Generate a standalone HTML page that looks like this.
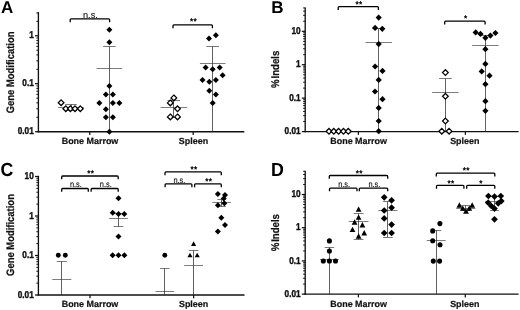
<!DOCTYPE html>
<html lang="en"><head><meta charset="utf-8"><title>Figure</title>
<style>
html,body{margin:0;padding:0;background:#fff;}
body{width:520px;height:310px;overflow:hidden;}
svg{display:block;will-change:transform;text-rendering:geometricPrecision;font-family:"Liberation Sans",sans-serif;}
</style></head><body>
<svg width="520" height="310" viewBox="0 0 520 310">
<rect width="520" height="310" fill="#fff"/>
<line x1="38.40" y1="12.10" x2="38.40" y2="132.38" stroke="#111" stroke-width="1.35" stroke-linecap="butt"/>
<line x1="37.73" y1="131.70" x2="244.30" y2="131.70" stroke="#111" stroke-width="1.35" stroke-linecap="butt"/>
<line x1="35.00" y1="35.80" x2="38.40" y2="35.80" stroke="#111" stroke-width="1.25" stroke-linecap="butt"/>
<text transform="translate(33.80,38.40) scale(1,1.2)" font-size="8.25" font-weight="bold" text-anchor="end" fill="#111" stroke="#111" stroke-width="0.35">1</text>
<line x1="35.00" y1="83.70" x2="38.40" y2="83.70" stroke="#111" stroke-width="1.25" stroke-linecap="butt"/>
<text transform="translate(33.80,86.30) scale(1,1.2)" font-size="8.25" font-weight="bold" text-anchor="end" fill="#111" stroke="#111" stroke-width="0.35">0.1</text>
<line x1="35.00" y1="131.70" x2="38.40" y2="131.70" stroke="#111" stroke-width="1.25" stroke-linecap="butt"/>
<text transform="translate(33.80,134.30) scale(1,1.2)" font-size="8.25" font-weight="bold" text-anchor="end" fill="#111" stroke="#111" stroke-width="0.35">0.01</text>
<line x1="36.30" y1="117.27" x2="38.40" y2="117.27" stroke="#111" stroke-width="0.95" stroke-linecap="butt"/>
<line x1="36.30" y1="108.82" x2="38.40" y2="108.82" stroke="#111" stroke-width="0.95" stroke-linecap="butt"/>
<line x1="36.30" y1="102.83" x2="38.40" y2="102.83" stroke="#111" stroke-width="0.95" stroke-linecap="butt"/>
<line x1="36.30" y1="98.18" x2="38.40" y2="98.18" stroke="#111" stroke-width="0.95" stroke-linecap="butt"/>
<line x1="36.30" y1="94.39" x2="38.40" y2="94.39" stroke="#111" stroke-width="0.95" stroke-linecap="butt"/>
<line x1="36.30" y1="91.18" x2="38.40" y2="91.18" stroke="#111" stroke-width="0.95" stroke-linecap="butt"/>
<line x1="36.30" y1="88.40" x2="38.40" y2="88.40" stroke="#111" stroke-width="0.95" stroke-linecap="butt"/>
<line x1="36.30" y1="85.94" x2="38.40" y2="85.94" stroke="#111" stroke-width="0.95" stroke-linecap="butt"/>
<line x1="36.30" y1="69.32" x2="38.40" y2="69.32" stroke="#111" stroke-width="0.95" stroke-linecap="butt"/>
<line x1="36.30" y1="60.87" x2="38.40" y2="60.87" stroke="#111" stroke-width="0.95" stroke-linecap="butt"/>
<line x1="36.30" y1="54.88" x2="38.40" y2="54.88" stroke="#111" stroke-width="0.95" stroke-linecap="butt"/>
<line x1="36.30" y1="50.23" x2="38.40" y2="50.23" stroke="#111" stroke-width="0.95" stroke-linecap="butt"/>
<line x1="36.30" y1="46.44" x2="38.40" y2="46.44" stroke="#111" stroke-width="0.95" stroke-linecap="butt"/>
<line x1="36.30" y1="43.23" x2="38.40" y2="43.23" stroke="#111" stroke-width="0.95" stroke-linecap="butt"/>
<line x1="36.30" y1="40.45" x2="38.40" y2="40.45" stroke="#111" stroke-width="0.95" stroke-linecap="butt"/>
<line x1="36.30" y1="37.99" x2="38.40" y2="37.99" stroke="#111" stroke-width="0.95" stroke-linecap="butt"/>
<line x1="36.30" y1="21.37" x2="38.40" y2="21.37" stroke="#111" stroke-width="0.95" stroke-linecap="butt"/>
<line x1="36.30" y1="12.92" x2="38.40" y2="12.92" stroke="#111" stroke-width="0.95" stroke-linecap="butt"/>
<line x1="89.80" y1="131.70" x2="89.80" y2="135.00" stroke="#111" stroke-width="1.25" stroke-linecap="butt"/>
<line x1="193.20" y1="131.70" x2="193.20" y2="135.00" stroke="#111" stroke-width="1.25" stroke-linecap="butt"/>
<text x="90.00" y="144.20" font-size="8.95" font-weight="bold" text-anchor="middle" fill="#111" stroke="#111" stroke-width="0.2">Bone Marrow</text>
<text x="193.50" y="144.20" font-size="8.95" font-weight="bold" text-anchor="middle" fill="#111" stroke="#111" stroke-width="0.2">Spleen</text>
<text transform="translate(13.50,72.40) rotate(-90) scale(1,1.15)" font-size="9.45" font-weight="bold" text-anchor="middle" fill="#111" stroke="#111" stroke-width="0.2">Gene Modification</text>
<text x="1.00" y="13.30" font-size="17" font-weight="bold" text-anchor="start" fill="#000" >A</text>
<line x1="71.50" y1="104.50" x2="71.50" y2="110.50" stroke="#2a2a2a" stroke-width="0.74" stroke-linecap="butt"/>
<line x1="58.20" y1="107.50" x2="83.80" y2="107.50" stroke="#333" stroke-width="0.64" stroke-linecap="butt"/>
<line x1="65.20" y1="104.50" x2="76.80" y2="104.50" stroke="#333" stroke-width="0.66" stroke-linecap="butt"/>
<line x1="65.20" y1="110.50" x2="76.80" y2="110.50" stroke="#333" stroke-width="0.66" stroke-linecap="butt"/>
<polygon points="61.10,99.85 63.95,102.70 61.10,105.55 58.25,102.70" fill="#fff" stroke="#000" stroke-width="1.25"/>
<polygon points="65.80,105.85 68.65,108.70 65.80,111.55 62.95,108.70" fill="#fff" stroke="#000" stroke-width="1.25"/>
<polygon points="70.40,105.85 73.25,108.70 70.40,111.55 67.55,108.70" fill="#fff" stroke="#000" stroke-width="1.25"/>
<polygon points="75.00,105.85 77.85,108.70 75.00,111.55 72.15,108.70" fill="#fff" stroke="#000" stroke-width="1.25"/>
<polygon points="80.30,105.85 83.15,108.70 80.30,111.55 77.45,108.70" fill="#fff" stroke="#000" stroke-width="1.25"/>
<line x1="109.50" y1="46.50" x2="109.50" y2="131.70" stroke="#2a2a2a" stroke-width="0.74" stroke-linecap="butt"/>
<line x1="96.60" y1="68.50" x2="122.20" y2="68.50" stroke="#333" stroke-width="0.64" stroke-linecap="butt"/>
<line x1="103.10" y1="46.50" x2="115.70" y2="46.50" stroke="#333" stroke-width="0.66" stroke-linecap="butt"/>
<polygon points="109.40,26.80 112.40,29.80 109.40,32.80 106.40,29.80" fill="#000"/>
<polygon points="109.40,39.20 112.40,42.20 109.40,45.20 106.40,42.20" fill="#000"/>
<polygon points="109.40,83.00 112.40,86.00 109.40,89.00 106.40,86.00" fill="#000"/>
<polygon points="105.90,91.40 108.90,94.40 105.90,97.40 102.90,94.40" fill="#000"/>
<polygon points="112.90,91.40 115.90,94.40 112.90,97.40 109.90,94.40" fill="#000"/>
<polygon points="99.40,100.10 102.40,103.10 99.40,106.10 96.40,103.10" fill="#000"/>
<polygon points="112.90,100.10 115.90,103.10 112.90,106.10 109.90,103.10" fill="#000"/>
<polygon points="119.40,100.10 122.40,103.10 119.40,106.10 116.40,103.10" fill="#000"/>
<polygon points="105.90,106.30 108.90,109.30 105.90,112.30 102.90,109.30" fill="#000"/>
<polygon points="105.90,114.20 108.90,117.20 105.90,120.20 102.90,117.20" fill="#000"/>
<polygon points="112.90,114.20 115.90,117.20 112.90,120.20 109.90,117.20" fill="#000"/>
<polygon points="109.40,128.70 112.40,131.70 109.40,134.70 106.40,131.70" fill="#000"/>
<path d="M70.20,22.20 V19.80 Q70.20,18.90 71.10,18.90 H108.70 Q109.60,18.90 109.60,19.80 V22.20" fill="none" stroke="#000" stroke-width="1.3"/>
<text transform="translate(90.40,17.90) scale(1,1.0)" font-size="9.2" text-anchor="middle" fill="#111" stroke="#111" stroke-width="0.12">n.s.</text>
<line x1="173.50" y1="100.50" x2="173.50" y2="117.50" stroke="#2a2a2a" stroke-width="0.74" stroke-linecap="butt"/>
<line x1="160.55" y1="107.50" x2="187.15" y2="107.50" stroke="#333" stroke-width="0.64" stroke-linecap="butt"/>
<line x1="167.55" y1="100.50" x2="180.15" y2="100.50" stroke="#333" stroke-width="0.66" stroke-linecap="butt"/>
<line x1="167.55" y1="117.50" x2="180.15" y2="117.50" stroke="#333" stroke-width="0.66" stroke-linecap="butt"/>
<polygon points="173.85,95.05 176.70,97.90 173.85,100.75 171.00,97.90" fill="#fff" stroke="#000" stroke-width="1.25"/>
<polygon points="170.30,100.05 173.15,102.90 170.30,105.75 167.45,102.90" fill="#fff" stroke="#000" stroke-width="1.25"/>
<polygon points="177.50,105.95 180.35,108.80 177.50,111.65 174.65,108.80" fill="#fff" stroke="#000" stroke-width="1.25"/>
<polygon points="170.30,114.05 173.15,116.90 170.30,119.75 167.45,116.90" fill="#fff" stroke="#000" stroke-width="1.25"/>
<polygon points="177.50,114.05 180.35,116.90 177.50,119.75 174.65,116.90" fill="#fff" stroke="#000" stroke-width="1.25"/>
<line x1="212.50" y1="46.50" x2="212.50" y2="131.70" stroke="#2a2a2a" stroke-width="0.74" stroke-linecap="butt"/>
<line x1="199.90" y1="63.50" x2="225.50" y2="63.50" stroke="#333" stroke-width="0.64" stroke-linecap="butt"/>
<line x1="206.40" y1="46.50" x2="219.00" y2="46.50" stroke="#333" stroke-width="0.66" stroke-linecap="butt"/>
<polygon points="215.90,32.20 218.90,35.20 215.90,38.20 212.90,35.20" fill="#000"/>
<polygon points="209.00,35.50 212.00,38.50 209.00,41.50 206.00,38.50" fill="#000"/>
<polygon points="205.60,64.40 208.60,67.40 205.60,70.40 202.60,67.40" fill="#000"/>
<polygon points="212.70,66.20 215.70,69.20 212.70,72.20 209.70,69.20" fill="#000"/>
<polygon points="219.70,64.40 222.70,67.40 219.70,70.40 216.70,67.40" fill="#000"/>
<polygon points="222.60,72.30 225.60,75.30 222.60,78.30 219.60,75.30" fill="#000"/>
<polygon points="202.50,76.90 205.50,79.90 202.50,82.90 199.50,79.90" fill="#000"/>
<polygon points="209.30,78.80 212.30,81.80 209.30,84.80 206.30,81.80" fill="#000"/>
<polygon points="215.90,76.90 218.90,79.90 215.90,82.90 212.90,79.90" fill="#000"/>
<polygon points="209.30,87.80 212.30,90.80 209.30,93.80 206.30,90.80" fill="#000"/>
<polygon points="215.90,91.60 218.90,94.60 215.90,97.60 212.90,94.60" fill="#000"/>
<polygon points="212.70,99.90 215.70,102.90 212.70,105.90 209.70,102.90" fill="#000"/>
<path d="M173.00,28.20 V25.80 Q173.00,24.90 173.90,24.90 H211.50 Q212.40,24.90 212.40,25.80 V28.20" fill="none" stroke="#000" stroke-width="1.3"/>
<text x="193.50" y="24.20" font-size="8.2" font-weight="normal" text-anchor="middle" fill="#000" stroke="#000" stroke-width="0.35" letter-spacing="0.3">**</text>
<line x1="305.20" y1="7.60" x2="305.20" y2="132.28" stroke="#111" stroke-width="1.35" stroke-linecap="butt"/>
<line x1="304.52" y1="131.60" x2="518.60" y2="131.60" stroke="#111" stroke-width="1.35" stroke-linecap="butt"/>
<line x1="301.80" y1="31.30" x2="305.20" y2="31.30" stroke="#111" stroke-width="1.25" stroke-linecap="butt"/>
<text transform="translate(300.60,33.90) scale(1,1.2)" font-size="8.25" font-weight="bold" text-anchor="end" fill="#111" stroke="#111" stroke-width="0.35">10</text>
<line x1="301.80" y1="64.70" x2="305.20" y2="64.70" stroke="#111" stroke-width="1.25" stroke-linecap="butt"/>
<text transform="translate(300.60,67.30) scale(1,1.2)" font-size="8.25" font-weight="bold" text-anchor="end" fill="#111" stroke="#111" stroke-width="0.35">1</text>
<line x1="301.80" y1="98.10" x2="305.20" y2="98.10" stroke="#111" stroke-width="1.25" stroke-linecap="butt"/>
<text transform="translate(300.60,100.70) scale(1,1.2)" font-size="8.25" font-weight="bold" text-anchor="end" fill="#111" stroke="#111" stroke-width="0.35">0.1</text>
<line x1="301.80" y1="131.60" x2="305.20" y2="131.60" stroke="#111" stroke-width="1.25" stroke-linecap="butt"/>
<text transform="translate(300.60,134.20) scale(1,1.2)" font-size="8.25" font-weight="bold" text-anchor="end" fill="#111" stroke="#111" stroke-width="0.35">0.01</text>
<line x1="303.10" y1="121.54" x2="305.20" y2="121.54" stroke="#111" stroke-width="0.95" stroke-linecap="butt"/>
<line x1="303.10" y1="115.65" x2="305.20" y2="115.65" stroke="#111" stroke-width="0.95" stroke-linecap="butt"/>
<line x1="303.10" y1="111.47" x2="305.20" y2="111.47" stroke="#111" stroke-width="0.95" stroke-linecap="butt"/>
<line x1="303.10" y1="108.23" x2="305.20" y2="108.23" stroke="#111" stroke-width="0.95" stroke-linecap="butt"/>
<line x1="303.10" y1="105.58" x2="305.20" y2="105.58" stroke="#111" stroke-width="0.95" stroke-linecap="butt"/>
<line x1="303.10" y1="103.35" x2="305.20" y2="103.35" stroke="#111" stroke-width="0.95" stroke-linecap="butt"/>
<line x1="303.10" y1="101.41" x2="305.20" y2="101.41" stroke="#111" stroke-width="0.95" stroke-linecap="butt"/>
<line x1="303.10" y1="99.70" x2="305.20" y2="99.70" stroke="#111" stroke-width="0.95" stroke-linecap="butt"/>
<line x1="303.10" y1="88.10" x2="305.20" y2="88.10" stroke="#111" stroke-width="0.95" stroke-linecap="butt"/>
<line x1="303.10" y1="82.21" x2="305.20" y2="82.21" stroke="#111" stroke-width="0.95" stroke-linecap="butt"/>
<line x1="303.10" y1="78.04" x2="305.20" y2="78.04" stroke="#111" stroke-width="0.95" stroke-linecap="butt"/>
<line x1="303.10" y1="74.80" x2="305.20" y2="74.80" stroke="#111" stroke-width="0.95" stroke-linecap="butt"/>
<line x1="303.10" y1="72.15" x2="305.20" y2="72.15" stroke="#111" stroke-width="0.95" stroke-linecap="butt"/>
<line x1="303.10" y1="69.91" x2="305.20" y2="69.91" stroke="#111" stroke-width="0.95" stroke-linecap="butt"/>
<line x1="303.10" y1="67.97" x2="305.20" y2="67.97" stroke="#111" stroke-width="0.95" stroke-linecap="butt"/>
<line x1="303.10" y1="66.26" x2="305.20" y2="66.26" stroke="#111" stroke-width="0.95" stroke-linecap="butt"/>
<line x1="303.10" y1="54.67" x2="305.20" y2="54.67" stroke="#111" stroke-width="0.95" stroke-linecap="butt"/>
<line x1="303.10" y1="48.78" x2="305.20" y2="48.78" stroke="#111" stroke-width="0.95" stroke-linecap="butt"/>
<line x1="303.10" y1="44.60" x2="305.20" y2="44.60" stroke="#111" stroke-width="0.95" stroke-linecap="butt"/>
<line x1="303.10" y1="41.36" x2="305.20" y2="41.36" stroke="#111" stroke-width="0.95" stroke-linecap="butt"/>
<line x1="303.10" y1="38.72" x2="305.20" y2="38.72" stroke="#111" stroke-width="0.95" stroke-linecap="butt"/>
<line x1="303.10" y1="36.48" x2="305.20" y2="36.48" stroke="#111" stroke-width="0.95" stroke-linecap="butt"/>
<line x1="303.10" y1="34.54" x2="305.20" y2="34.54" stroke="#111" stroke-width="0.95" stroke-linecap="butt"/>
<line x1="303.10" y1="32.83" x2="305.20" y2="32.83" stroke="#111" stroke-width="0.95" stroke-linecap="butt"/>
<line x1="303.10" y1="21.24" x2="305.20" y2="21.24" stroke="#111" stroke-width="0.95" stroke-linecap="butt"/>
<line x1="303.10" y1="15.35" x2="305.20" y2="15.35" stroke="#111" stroke-width="0.95" stroke-linecap="butt"/>
<line x1="303.10" y1="11.17" x2="305.20" y2="11.17" stroke="#111" stroke-width="0.95" stroke-linecap="butt"/>
<line x1="303.10" y1="7.93" x2="305.20" y2="7.93" stroke="#111" stroke-width="0.95" stroke-linecap="butt"/>
<line x1="358.40" y1="131.60" x2="358.40" y2="134.90" stroke="#111" stroke-width="1.25" stroke-linecap="butt"/>
<line x1="465.40" y1="131.60" x2="465.40" y2="134.90" stroke="#111" stroke-width="1.25" stroke-linecap="butt"/>
<text x="358.60" y="144.20" font-size="8.95" font-weight="bold" text-anchor="middle" fill="#111" stroke="#111" stroke-width="0.2">Bone Marrow</text>
<text x="464.80" y="144.20" font-size="8.95" font-weight="bold" text-anchor="middle" fill="#111" stroke="#111" stroke-width="0.2">Spleen</text>
<text transform="translate(279.30,69.30) rotate(-90) scale(1,1.15)" font-size="9.65" font-weight="bold" text-anchor="middle" fill="#111" stroke="#111" stroke-width="0.2">%<tspan dx="0.9">Indels</tspan></text>
<text x="271.30" y="13.30" font-size="17" font-weight="bold" text-anchor="start" fill="#000" >B</text>
<polygon points="329.00,128.45 331.85,131.30 329.00,134.15 326.15,131.30" fill="#fff" stroke="#000" stroke-width="1.25"/>
<polygon points="333.80,128.45 336.65,131.30 333.80,134.15 330.95,131.30" fill="#fff" stroke="#000" stroke-width="1.25"/>
<polygon points="338.60,128.45 341.45,131.30 338.60,134.15 335.75,131.30" fill="#fff" stroke="#000" stroke-width="1.25"/>
<polygon points="343.50,128.45 346.35,131.30 343.50,134.15 340.65,131.30" fill="#fff" stroke="#000" stroke-width="1.25"/>
<polygon points="348.30,128.45 351.15,131.30 348.30,134.15 345.45,131.30" fill="#fff" stroke="#000" stroke-width="1.25"/>
<line x1="378.50" y1="28.50" x2="378.50" y2="131.60" stroke="#2a2a2a" stroke-width="0.74" stroke-linecap="butt"/>
<line x1="365.50" y1="42.50" x2="391.90" y2="42.50" stroke="#333" stroke-width="0.64" stroke-linecap="butt"/>
<line x1="372.40" y1="28.50" x2="385.00" y2="28.50" stroke="#333" stroke-width="0.66" stroke-linecap="butt"/>
<polygon points="378.70,14.50 381.80,17.60 378.70,20.70 375.60,17.60" fill="#000"/>
<polygon points="375.10,24.80 378.20,27.90 375.10,31.00 372.00,27.90" fill="#000"/>
<polygon points="382.30,25.70 385.40,28.80 382.30,31.90 379.20,28.80" fill="#000"/>
<polygon points="378.70,41.00 381.80,44.10 378.70,47.20 375.60,44.10" fill="#000"/>
<polygon points="375.10,63.40 378.20,66.50 375.10,69.60 372.00,66.50" fill="#000"/>
<polygon points="382.50,67.80 385.60,70.90 382.50,74.00 379.40,70.90" fill="#000"/>
<polygon points="378.70,76.80 381.80,79.90 378.70,83.00 375.60,79.90" fill="#000"/>
<polygon points="375.00,88.40 378.10,91.50 375.00,94.60 371.90,91.50" fill="#000"/>
<polygon points="382.50,96.10 385.60,99.20 382.50,102.30 379.40,99.20" fill="#000"/>
<polygon points="378.70,104.80 381.80,107.90 378.70,111.00 375.60,107.90" fill="#000"/>
<polygon points="378.70,117.90 381.80,121.00 378.70,124.10 375.60,121.00" fill="#000"/>
<polygon points="378.70,128.10 381.80,131.20 378.70,134.30 375.60,131.20" fill="#000"/>
<path d="M338.20,9.90 V7.50 Q338.20,6.60 339.10,6.60 H377.50 Q378.40,6.60 378.40,7.50 V9.90" fill="none" stroke="#000" stroke-width="1.3"/>
<text x="359.10" y="6.90" font-size="8.2" font-weight="normal" text-anchor="middle" fill="#000" stroke="#000" stroke-width="0.35" letter-spacing="0.3">**</text>
<line x1="445.50" y1="78.50" x2="445.50" y2="131.60" stroke="#2a2a2a" stroke-width="0.74" stroke-linecap="butt"/>
<line x1="432.20" y1="92.50" x2="458.60" y2="92.50" stroke="#333" stroke-width="0.64" stroke-linecap="butt"/>
<line x1="439.10" y1="78.50" x2="451.70" y2="78.50" stroke="#333" stroke-width="0.66" stroke-linecap="butt"/>
<polygon points="445.40,69.75 448.25,72.60 445.40,75.45 442.55,72.60" fill="#fff" stroke="#000" stroke-width="1.25"/>
<polygon points="445.40,93.45 448.25,96.30 445.40,99.15 442.55,96.30" fill="#fff" stroke="#000" stroke-width="1.25"/>
<polygon points="445.40,118.15 448.25,121.00 445.40,123.85 442.55,121.00" fill="#fff" stroke="#000" stroke-width="1.25"/>
<polygon points="441.80,128.35 444.65,131.20 441.80,134.05 438.95,131.20" fill="#fff" stroke="#000" stroke-width="1.25"/>
<polygon points="449.10,128.35 451.95,131.20 449.10,134.05 446.25,131.20" fill="#fff" stroke="#000" stroke-width="1.25"/>
<line x1="485.50" y1="35.50" x2="485.50" y2="131.60" stroke="#2a2a2a" stroke-width="0.74" stroke-linecap="butt"/>
<line x1="472.20" y1="45.50" x2="498.60" y2="45.50" stroke="#333" stroke-width="0.64" stroke-linecap="butt"/>
<line x1="479.10" y1="35.50" x2="491.70" y2="35.50" stroke="#333" stroke-width="0.66" stroke-linecap="butt"/>
<polygon points="475.70,29.30 478.80,32.40 475.70,35.50 472.60,32.40" fill="#000"/>
<polygon points="480.50,30.80 483.60,33.90 480.50,37.00 477.40,33.90" fill="#000"/>
<polygon points="485.40,34.70 488.50,37.80 485.40,40.90 482.30,37.80" fill="#000"/>
<polygon points="490.40,32.50 493.50,35.60 490.40,38.70 487.30,35.60" fill="#000"/>
<polygon points="495.40,29.90 498.50,33.00 495.40,36.10 492.30,33.00" fill="#000"/>
<polygon points="485.40,46.10 488.50,49.20 485.40,52.30 482.30,49.20" fill="#000"/>
<polygon points="485.40,60.80 488.50,63.90 485.40,67.00 482.30,63.90" fill="#000"/>
<polygon points="481.70,68.30 484.80,71.40 481.70,74.50 478.60,71.40" fill="#000"/>
<polygon points="489.50,72.60 492.60,75.70 489.50,78.80 486.40,75.70" fill="#000"/>
<polygon points="485.40,81.10 488.50,84.20 485.40,87.30 482.30,84.20" fill="#000"/>
<polygon points="485.40,98.10 488.50,101.20 485.40,104.30 482.30,101.20" fill="#000"/>
<polygon points="485.40,107.70 488.50,110.80 485.40,113.90 482.30,110.80" fill="#000"/>
<path d="M444.70,24.50 V22.10 Q444.70,21.20 445.60,21.20 H484.20 Q485.10,21.20 485.10,22.10 V24.50" fill="none" stroke="#000" stroke-width="1.3"/>
<text x="465.70" y="20.50" font-size="8.2" font-weight="normal" text-anchor="middle" fill="#000" stroke="#000" stroke-width="0.35" letter-spacing="0.3">*</text>
<line x1="38.40" y1="175.80" x2="38.40" y2="295.68" stroke="#111" stroke-width="1.35" stroke-linecap="butt"/>
<line x1="37.73" y1="295.00" x2="244.50" y2="295.00" stroke="#111" stroke-width="1.35" stroke-linecap="butt"/>
<line x1="35.00" y1="176.50" x2="38.40" y2="176.50" stroke="#111" stroke-width="1.25" stroke-linecap="butt"/>
<text transform="translate(33.80,179.10) scale(1,1.2)" font-size="8.25" font-weight="bold" text-anchor="end" fill="#111" stroke="#111" stroke-width="0.35">10</text>
<line x1="35.00" y1="216.00" x2="38.40" y2="216.00" stroke="#111" stroke-width="1.25" stroke-linecap="butt"/>
<text transform="translate(33.80,218.60) scale(1,1.2)" font-size="8.25" font-weight="bold" text-anchor="end" fill="#111" stroke="#111" stroke-width="0.35">1</text>
<line x1="35.00" y1="255.50" x2="38.40" y2="255.50" stroke="#111" stroke-width="1.25" stroke-linecap="butt"/>
<text transform="translate(33.80,258.10) scale(1,1.2)" font-size="8.25" font-weight="bold" text-anchor="end" fill="#111" stroke="#111" stroke-width="0.35">0.1</text>
<line x1="35.00" y1="295.00" x2="38.40" y2="295.00" stroke="#111" stroke-width="1.25" stroke-linecap="butt"/>
<text transform="translate(33.80,297.60) scale(1,1.2)" font-size="8.25" font-weight="bold" text-anchor="end" fill="#111" stroke="#111" stroke-width="0.35">0.01</text>
<line x1="36.30" y1="283.11" x2="38.40" y2="283.11" stroke="#111" stroke-width="0.95" stroke-linecap="butt"/>
<line x1="36.30" y1="276.15" x2="38.40" y2="276.15" stroke="#111" stroke-width="0.95" stroke-linecap="butt"/>
<line x1="36.30" y1="271.22" x2="38.40" y2="271.22" stroke="#111" stroke-width="0.95" stroke-linecap="butt"/>
<line x1="36.30" y1="267.39" x2="38.40" y2="267.39" stroke="#111" stroke-width="0.95" stroke-linecap="butt"/>
<line x1="36.30" y1="264.26" x2="38.40" y2="264.26" stroke="#111" stroke-width="0.95" stroke-linecap="butt"/>
<line x1="36.30" y1="261.62" x2="38.40" y2="261.62" stroke="#111" stroke-width="0.95" stroke-linecap="butt"/>
<line x1="36.30" y1="259.33" x2="38.40" y2="259.33" stroke="#111" stroke-width="0.95" stroke-linecap="butt"/>
<line x1="36.30" y1="257.31" x2="38.40" y2="257.31" stroke="#111" stroke-width="0.95" stroke-linecap="butt"/>
<line x1="36.30" y1="243.61" x2="38.40" y2="243.61" stroke="#111" stroke-width="0.95" stroke-linecap="butt"/>
<line x1="36.30" y1="236.65" x2="38.40" y2="236.65" stroke="#111" stroke-width="0.95" stroke-linecap="butt"/>
<line x1="36.30" y1="231.72" x2="38.40" y2="231.72" stroke="#111" stroke-width="0.95" stroke-linecap="butt"/>
<line x1="36.30" y1="227.89" x2="38.40" y2="227.89" stroke="#111" stroke-width="0.95" stroke-linecap="butt"/>
<line x1="36.30" y1="224.76" x2="38.40" y2="224.76" stroke="#111" stroke-width="0.95" stroke-linecap="butt"/>
<line x1="36.30" y1="222.12" x2="38.40" y2="222.12" stroke="#111" stroke-width="0.95" stroke-linecap="butt"/>
<line x1="36.30" y1="219.83" x2="38.40" y2="219.83" stroke="#111" stroke-width="0.95" stroke-linecap="butt"/>
<line x1="36.30" y1="217.81" x2="38.40" y2="217.81" stroke="#111" stroke-width="0.95" stroke-linecap="butt"/>
<line x1="36.30" y1="204.11" x2="38.40" y2="204.11" stroke="#111" stroke-width="0.95" stroke-linecap="butt"/>
<line x1="36.30" y1="197.15" x2="38.40" y2="197.15" stroke="#111" stroke-width="0.95" stroke-linecap="butt"/>
<line x1="36.30" y1="192.22" x2="38.40" y2="192.22" stroke="#111" stroke-width="0.95" stroke-linecap="butt"/>
<line x1="36.30" y1="188.39" x2="38.40" y2="188.39" stroke="#111" stroke-width="0.95" stroke-linecap="butt"/>
<line x1="36.30" y1="185.26" x2="38.40" y2="185.26" stroke="#111" stroke-width="0.95" stroke-linecap="butt"/>
<line x1="36.30" y1="182.62" x2="38.40" y2="182.62" stroke="#111" stroke-width="0.95" stroke-linecap="butt"/>
<line x1="36.30" y1="180.33" x2="38.40" y2="180.33" stroke="#111" stroke-width="0.95" stroke-linecap="butt"/>
<line x1="36.30" y1="178.31" x2="38.40" y2="178.31" stroke="#111" stroke-width="0.95" stroke-linecap="butt"/>
<line x1="90.00" y1="295.00" x2="90.00" y2="298.30" stroke="#111" stroke-width="1.25" stroke-linecap="butt"/>
<line x1="193.60" y1="295.00" x2="193.60" y2="298.30" stroke="#111" stroke-width="1.25" stroke-linecap="butt"/>
<text x="90.00" y="306.80" font-size="8.95" font-weight="bold" text-anchor="middle" fill="#111" stroke="#111" stroke-width="0.2">Bone Marrow</text>
<text x="193.60" y="306.80" font-size="8.95" font-weight="bold" text-anchor="middle" fill="#111" stroke="#111" stroke-width="0.2">Spleen</text>
<text transform="translate(13.50,235.00) rotate(-90) scale(1,1.15)" font-size="9.45" font-weight="bold" text-anchor="middle" fill="#111" stroke="#111" stroke-width="0.2">Gene Modification</text>
<text transform="translate(0.60,175.90) scale(1,1.07)" font-size="17.8" font-weight="bold" fill="#000">C</text>
<line x1="61.50" y1="261.50" x2="61.50" y2="295.00" stroke="#2a2a2a" stroke-width="0.74" stroke-linecap="butt"/>
<line x1="52.30" y1="279.50" x2="71.30" y2="279.50" stroke="#333" stroke-width="0.64" stroke-linecap="butt"/>
<line x1="56.80" y1="261.50" x2="66.80" y2="261.50" stroke="#333" stroke-width="0.66" stroke-linecap="butt"/>
<circle cx="58.30" cy="255.30" r="2.45" fill="#000"/>
<circle cx="65.30" cy="255.30" r="2.45" fill="#000"/>
<line x1="118.50" y1="213.50" x2="118.50" y2="226.50" stroke="#2a2a2a" stroke-width="0.74" stroke-linecap="butt"/>
<line x1="109.10" y1="218.50" x2="127.90" y2="218.50" stroke="#333" stroke-width="0.64" stroke-linecap="butt"/>
<line x1="113.70" y1="213.50" x2="123.30" y2="213.50" stroke="#333" stroke-width="0.66" stroke-linecap="butt"/>
<line x1="113.70" y1="226.50" x2="123.30" y2="226.50" stroke="#333" stroke-width="0.66" stroke-linecap="butt"/>
<polygon points="118.50,195.20 121.50,198.20 118.50,201.20 115.50,198.20" fill="#000"/>
<polygon points="112.70,209.80 115.70,212.80 112.70,215.80 109.70,212.80" fill="#000"/>
<polygon points="118.50,211.10 121.50,214.10 118.50,217.10 115.50,214.10" fill="#000"/>
<polygon points="124.30,211.10 127.30,214.10 124.30,217.10 121.30,214.10" fill="#000"/>
<polygon points="118.50,233.60 121.50,236.60 118.50,239.60 115.50,236.60" fill="#000"/>
<polygon points="112.60,252.30 115.60,255.30 112.60,258.30 109.60,255.30" fill="#000"/>
<polygon points="118.50,252.30 121.50,255.30 118.50,258.30 115.50,255.30" fill="#000"/>
<polygon points="124.40,252.30 127.40,255.30 124.40,258.30 121.40,255.30" fill="#000"/>
<path d="M61.70,179.30 V176.90 Q61.70,176.00 62.60,176.00 H117.30 Q118.20,176.00 118.20,176.90 V179.30" fill="none" stroke="#000" stroke-width="1.3"/>
<text x="90.75" y="176.30" font-size="8.2" font-weight="normal" text-anchor="middle" fill="#000" stroke="#000" stroke-width="0.35" letter-spacing="0.3">**</text>
<path d="M61.70,191.80 V189.40 Q61.70,188.50 62.60,188.50 H87.40 Q88.30,188.50 88.30,189.40 V191.80" fill="none" stroke="#000" stroke-width="1.3"/>
<text transform="translate(75.90,186.90) scale(1,1.15)" font-size="7.4" text-anchor="middle" fill="#111" stroke="#111" stroke-width="0.12">n.s.</text>
<path d="M91.10,191.80 V189.40 Q91.10,188.50 92.00,188.50 H117.30 Q118.20,188.50 118.20,189.40 V191.80" fill="none" stroke="#000" stroke-width="1.3"/>
<text transform="translate(105.75,186.90) scale(1,1.15)" font-size="7.4" text-anchor="middle" fill="#111" stroke="#111" stroke-width="0.12">n.s.</text>
<line x1="164.50" y1="268.50" x2="164.50" y2="295.00" stroke="#2a2a2a" stroke-width="0.74" stroke-linecap="butt"/>
<line x1="155.50" y1="291.50" x2="174.10" y2="291.50" stroke="#333" stroke-width="0.64" stroke-linecap="butt"/>
<line x1="160.00" y1="268.50" x2="169.60" y2="268.50" stroke="#333" stroke-width="0.66" stroke-linecap="butt"/>
<circle cx="164.80" cy="255.20" r="2.45" fill="#000"/>
<line x1="193.50" y1="250.50" x2="193.50" y2="295.00" stroke="#2a2a2a" stroke-width="0.74" stroke-linecap="butt"/>
<line x1="184.20" y1="265.50" x2="203.00" y2="265.50" stroke="#333" stroke-width="0.64" stroke-linecap="butt"/>
<line x1="188.80" y1="250.50" x2="198.40" y2="250.50" stroke="#333" stroke-width="0.66" stroke-linecap="butt"/>
<polygon points="193.60,241.25 196.15,245.97 191.05,245.97" fill="#000"/>
<polygon points="190.00,252.65 192.55,257.37 187.45,257.37" fill="#000"/>
<polygon points="197.20,252.65 199.75,257.37 194.65,257.37" fill="#000"/>
<line x1="221.50" y1="199.50" x2="221.50" y2="206.50" stroke="#2a2a2a" stroke-width="0.74" stroke-linecap="butt"/>
<line x1="212.30" y1="202.50" x2="230.90" y2="202.50" stroke="#333" stroke-width="0.64" stroke-linecap="butt"/>
<line x1="217.40" y1="199.50" x2="225.80" y2="199.50" stroke="#333" stroke-width="0.66" stroke-linecap="butt"/>
<line x1="217.40" y1="206.50" x2="225.80" y2="206.50" stroke="#333" stroke-width="0.66" stroke-linecap="butt"/>
<polygon points="217.90,191.00 220.90,194.00 217.90,197.00 214.90,194.00" fill="#000"/>
<polygon points="225.00,191.90 228.00,194.90 225.00,197.90 222.00,194.90" fill="#000"/>
<polygon points="223.70,195.60 226.70,198.60 223.70,201.60 220.70,198.60" fill="#000"/>
<polygon points="224.30,200.30 227.30,203.30 224.30,206.30 221.30,203.30" fill="#000"/>
<polygon points="217.90,202.20 220.90,205.20 217.90,208.20 214.90,205.20" fill="#000"/>
<polygon points="221.30,214.80 224.30,217.80 221.30,220.80 218.30,217.80" fill="#000"/>
<polygon points="225.00,222.00 228.00,225.00 225.00,228.00 222.00,225.00" fill="#000"/>
<polygon points="217.90,228.50 220.90,231.50 217.90,234.50 214.90,231.50" fill="#000"/>
<path d="M165.00,175.25 V172.85 Q165.00,171.95 165.90,171.95 H220.40 Q221.30,171.95 221.30,172.85 V175.25" fill="none" stroke="#000" stroke-width="1.3"/>
<text x="193.95" y="172.25" font-size="8.2" font-weight="normal" text-anchor="middle" fill="#000" stroke="#000" stroke-width="0.35" letter-spacing="0.3">**</text>
<path d="M165.10,187.20 V184.80 Q165.10,183.90 166.00,183.90 H191.00 Q191.90,183.90 191.90,184.80 V187.20" fill="none" stroke="#000" stroke-width="1.3"/>
<text transform="translate(179.40,182.50) scale(1,1.15)" font-size="7.4" text-anchor="middle" fill="#111" stroke="#111" stroke-width="0.12">n.s.</text>
<path d="M194.60,187.20 V184.80 Q194.60,183.90 195.50,183.90 H220.40 Q221.30,183.90 221.30,184.80 V187.20" fill="none" stroke="#000" stroke-width="1.3"/>
<text x="208.75" y="184.20" font-size="8.2" font-weight="normal" text-anchor="middle" fill="#000" stroke="#000" stroke-width="0.35" letter-spacing="0.3">**</text>
<line x1="305.20" y1="170.70" x2="305.20" y2="294.78" stroke="#111" stroke-width="1.35" stroke-linecap="butt"/>
<line x1="304.52" y1="294.10" x2="518.60" y2="294.10" stroke="#111" stroke-width="1.35" stroke-linecap="butt"/>
<line x1="301.80" y1="194.50" x2="305.20" y2="194.50" stroke="#111" stroke-width="1.25" stroke-linecap="butt"/>
<text transform="translate(300.60,197.10) scale(1,1.2)" font-size="8.25" font-weight="bold" text-anchor="end" fill="#111" stroke="#111" stroke-width="0.35">10</text>
<line x1="301.80" y1="227.70" x2="305.20" y2="227.70" stroke="#111" stroke-width="1.25" stroke-linecap="butt"/>
<text transform="translate(300.60,230.30) scale(1,1.2)" font-size="8.25" font-weight="bold" text-anchor="end" fill="#111" stroke="#111" stroke-width="0.35">1</text>
<line x1="301.80" y1="260.90" x2="305.20" y2="260.90" stroke="#111" stroke-width="1.25" stroke-linecap="butt"/>
<text transform="translate(300.60,263.50) scale(1,1.2)" font-size="8.25" font-weight="bold" text-anchor="end" fill="#111" stroke="#111" stroke-width="0.35">0.1</text>
<line x1="301.80" y1="294.10" x2="305.20" y2="294.10" stroke="#111" stroke-width="1.25" stroke-linecap="butt"/>
<text transform="translate(300.60,296.70) scale(1,1.2)" font-size="8.25" font-weight="bold" text-anchor="end" fill="#111" stroke="#111" stroke-width="0.35">0.01</text>
<line x1="303.10" y1="284.11" x2="305.20" y2="284.11" stroke="#111" stroke-width="0.95" stroke-linecap="butt"/>
<line x1="303.10" y1="278.26" x2="305.20" y2="278.26" stroke="#111" stroke-width="0.95" stroke-linecap="butt"/>
<line x1="303.10" y1="274.11" x2="305.20" y2="274.11" stroke="#111" stroke-width="0.95" stroke-linecap="butt"/>
<line x1="303.10" y1="270.89" x2="305.20" y2="270.89" stroke="#111" stroke-width="0.95" stroke-linecap="butt"/>
<line x1="303.10" y1="268.27" x2="305.20" y2="268.27" stroke="#111" stroke-width="0.95" stroke-linecap="butt"/>
<line x1="303.10" y1="266.04" x2="305.20" y2="266.04" stroke="#111" stroke-width="0.95" stroke-linecap="butt"/>
<line x1="303.10" y1="264.12" x2="305.20" y2="264.12" stroke="#111" stroke-width="0.95" stroke-linecap="butt"/>
<line x1="303.10" y1="262.42" x2="305.20" y2="262.42" stroke="#111" stroke-width="0.95" stroke-linecap="butt"/>
<line x1="303.10" y1="250.91" x2="305.20" y2="250.91" stroke="#111" stroke-width="0.95" stroke-linecap="butt"/>
<line x1="303.10" y1="245.06" x2="305.20" y2="245.06" stroke="#111" stroke-width="0.95" stroke-linecap="butt"/>
<line x1="303.10" y1="240.91" x2="305.20" y2="240.91" stroke="#111" stroke-width="0.95" stroke-linecap="butt"/>
<line x1="303.10" y1="237.69" x2="305.20" y2="237.69" stroke="#111" stroke-width="0.95" stroke-linecap="butt"/>
<line x1="303.10" y1="235.07" x2="305.20" y2="235.07" stroke="#111" stroke-width="0.95" stroke-linecap="butt"/>
<line x1="303.10" y1="232.84" x2="305.20" y2="232.84" stroke="#111" stroke-width="0.95" stroke-linecap="butt"/>
<line x1="303.10" y1="230.92" x2="305.20" y2="230.92" stroke="#111" stroke-width="0.95" stroke-linecap="butt"/>
<line x1="303.10" y1="229.22" x2="305.20" y2="229.22" stroke="#111" stroke-width="0.95" stroke-linecap="butt"/>
<line x1="303.10" y1="217.71" x2="305.20" y2="217.71" stroke="#111" stroke-width="0.95" stroke-linecap="butt"/>
<line x1="303.10" y1="211.86" x2="305.20" y2="211.86" stroke="#111" stroke-width="0.95" stroke-linecap="butt"/>
<line x1="303.10" y1="207.71" x2="305.20" y2="207.71" stroke="#111" stroke-width="0.95" stroke-linecap="butt"/>
<line x1="303.10" y1="204.49" x2="305.20" y2="204.49" stroke="#111" stroke-width="0.95" stroke-linecap="butt"/>
<line x1="303.10" y1="201.87" x2="305.20" y2="201.87" stroke="#111" stroke-width="0.95" stroke-linecap="butt"/>
<line x1="303.10" y1="199.64" x2="305.20" y2="199.64" stroke="#111" stroke-width="0.95" stroke-linecap="butt"/>
<line x1="303.10" y1="197.72" x2="305.20" y2="197.72" stroke="#111" stroke-width="0.95" stroke-linecap="butt"/>
<line x1="303.10" y1="196.02" x2="305.20" y2="196.02" stroke="#111" stroke-width="0.95" stroke-linecap="butt"/>
<line x1="303.10" y1="184.51" x2="305.20" y2="184.51" stroke="#111" stroke-width="0.95" stroke-linecap="butt"/>
<line x1="303.10" y1="178.66" x2="305.20" y2="178.66" stroke="#111" stroke-width="0.95" stroke-linecap="butt"/>
<line x1="303.10" y1="174.51" x2="305.20" y2="174.51" stroke="#111" stroke-width="0.95" stroke-linecap="butt"/>
<line x1="303.10" y1="171.29" x2="305.20" y2="171.29" stroke="#111" stroke-width="0.95" stroke-linecap="butt"/>
<line x1="358.40" y1="294.10" x2="358.40" y2="297.40" stroke="#111" stroke-width="1.25" stroke-linecap="butt"/>
<line x1="465.30" y1="294.10" x2="465.30" y2="297.40" stroke="#111" stroke-width="1.25" stroke-linecap="butt"/>
<text x="358.60" y="306.80" font-size="8.95" font-weight="bold" text-anchor="middle" fill="#111" stroke="#111" stroke-width="0.2">Bone Marrow</text>
<text x="464.80" y="306.80" font-size="8.95" font-weight="bold" text-anchor="middle" fill="#111" stroke="#111" stroke-width="0.2">Spleen</text>
<text transform="translate(279.30,232.70) rotate(-90) scale(1,1.15)" font-size="9.65" font-weight="bold" text-anchor="middle" fill="#111" stroke="#111" stroke-width="0.2">%<tspan dx="0.9">Indels</tspan></text>
<text transform="translate(271.00,175.80) scale(1,1.07)" font-size="17.8" font-weight="bold" fill="#000">D</text>
<line x1="329.50" y1="247.50" x2="329.50" y2="294.10" stroke="#2a2a2a" stroke-width="0.74" stroke-linecap="butt"/>
<line x1="320.10" y1="259.50" x2="338.70" y2="259.50" stroke="#333" stroke-width="0.64" stroke-linecap="butt"/>
<line x1="324.60" y1="247.50" x2="334.20" y2="247.50" stroke="#333" stroke-width="0.66" stroke-linecap="butt"/>
<circle cx="329.40" cy="240.90" r="2.55" fill="#000"/>
<circle cx="329.40" cy="251.00" r="2.55" fill="#000"/>
<circle cx="323.30" cy="261.00" r="2.55" fill="#000"/>
<circle cx="329.40" cy="261.00" r="2.55" fill="#000"/>
<circle cx="335.50" cy="261.00" r="2.55" fill="#000"/>
<line x1="358.50" y1="213.50" x2="358.50" y2="239.50" stroke="#2a2a2a" stroke-width="0.74" stroke-linecap="butt"/>
<line x1="348.70" y1="221.50" x2="368.50" y2="221.50" stroke="#333" stroke-width="0.64" stroke-linecap="butt"/>
<line x1="353.70" y1="213.50" x2="363.50" y2="213.50" stroke="#333" stroke-width="0.66" stroke-linecap="butt"/>
<line x1="353.70" y1="239.50" x2="363.50" y2="239.50" stroke="#333" stroke-width="0.66" stroke-linecap="butt"/>
<polygon points="358.60,206.50 361.50,211.87 355.70,211.87" fill="#000"/>
<polygon points="358.60,214.40 361.50,219.77 355.70,219.77" fill="#000"/>
<polygon points="354.60,219.30 357.50,224.66 351.70,224.66" fill="#000"/>
<polygon points="362.40,222.10 365.30,227.47 359.50,227.47" fill="#000"/>
<polygon points="352.50,226.70 355.40,232.06 349.60,232.06" fill="#000"/>
<polygon points="364.20,230.10 367.10,235.47 361.30,235.47" fill="#000"/>
<polygon points="358.60,233.30 361.50,238.66 355.70,238.66" fill="#000"/>
<line x1="387.50" y1="201.50" x2="387.50" y2="237.50" stroke="#2a2a2a" stroke-width="0.74" stroke-linecap="butt"/>
<line x1="378.30" y1="210.50" x2="397.50" y2="210.50" stroke="#333" stroke-width="0.64" stroke-linecap="butt"/>
<line x1="383.00" y1="201.50" x2="392.80" y2="201.50" stroke="#333" stroke-width="0.66" stroke-linecap="butt"/>
<line x1="383.00" y1="237.50" x2="392.80" y2="237.50" stroke="#333" stroke-width="0.66" stroke-linecap="butt"/>
<polygon points="384.20,193.95 387.55,197.30 384.20,200.65 380.85,197.30" fill="#000"/>
<polygon points="391.60,196.95 394.95,200.30 391.60,203.65 388.25,200.30" fill="#000"/>
<polygon points="391.60,204.35 394.95,207.70 391.60,211.05 388.25,207.70" fill="#000"/>
<polygon points="384.20,207.15 387.55,210.50 384.20,213.85 380.85,210.50" fill="#000"/>
<polygon points="384.20,215.05 387.55,218.40 384.20,221.75 380.85,218.40" fill="#000"/>
<polygon points="391.60,221.25 394.95,224.60 391.60,227.95 388.25,224.60" fill="#000"/>
<polygon points="384.20,229.65 387.55,233.00 384.20,236.35 380.85,233.00" fill="#000"/>
<polygon points="391.60,229.65 394.95,233.00 391.60,236.35 388.25,233.00" fill="#000"/>
<path d="M329.30,178.80 V176.40 Q329.30,175.50 330.20,175.50 H386.80 Q387.70,175.50 387.70,176.40 V178.80" fill="none" stroke="#000" stroke-width="1.3"/>
<text x="359.30" y="176.10" font-size="8.2" font-weight="normal" text-anchor="middle" fill="#000" stroke="#000" stroke-width="0.35" letter-spacing="0.3">**</text>
<path d="M329.50,191.35 V188.95 Q329.50,188.05 330.40,188.05 H356.10 Q357.00,188.05 357.00,188.95 V191.35" fill="none" stroke="#000" stroke-width="1.3"/>
<text transform="translate(344.15,186.65) scale(1,1.15)" font-size="7.4" text-anchor="middle" fill="#111" stroke="#111" stroke-width="0.12">n.s.</text>
<path d="M359.30,191.35 V188.95 Q359.30,188.05 360.20,188.05 H386.80 Q387.70,188.05 387.70,188.95 V191.35" fill="none" stroke="#000" stroke-width="1.3"/>
<text transform="translate(374.40,186.65) scale(1,1.15)" font-size="7.4" text-anchor="middle" fill="#111" stroke="#111" stroke-width="0.12">n.s.</text>
<line x1="436.50" y1="230.50" x2="436.50" y2="294.10" stroke="#2a2a2a" stroke-width="0.74" stroke-linecap="butt"/>
<line x1="426.70" y1="240.50" x2="445.70" y2="240.50" stroke="#333" stroke-width="0.64" stroke-linecap="butt"/>
<line x1="431.20" y1="230.50" x2="441.20" y2="230.50" stroke="#333" stroke-width="0.66" stroke-linecap="butt"/>
<circle cx="439.90" cy="223.60" r="2.55" fill="#000"/>
<circle cx="432.70" cy="230.90" r="2.55" fill="#000"/>
<circle cx="432.70" cy="240.80" r="2.55" fill="#000"/>
<circle cx="440.00" cy="244.80" r="2.55" fill="#000"/>
<circle cx="433.30" cy="261.10" r="2.55" fill="#000"/>
<circle cx="439.60" cy="261.10" r="2.55" fill="#000"/>
<line x1="465.50" y1="205.50" x2="465.50" y2="210.50" stroke="#2a2a2a" stroke-width="0.74" stroke-linecap="butt"/>
<line x1="456.20" y1="208.50" x2="475.40" y2="208.50" stroke="#333" stroke-width="0.64" stroke-linecap="butt"/>
<line x1="461.30" y1="205.50" x2="470.30" y2="205.50" stroke="#333" stroke-width="0.66" stroke-linecap="butt"/>
<line x1="461.30" y1="210.50" x2="470.30" y2="210.50" stroke="#333" stroke-width="0.66" stroke-linecap="butt"/>
<polygon points="459.40,202.30 462.30,207.66 456.50,207.66" fill="#000"/>
<polygon points="472.20,202.30 475.10,207.66 469.30,207.66" fill="#000"/>
<polygon points="462.80,205.40 465.70,210.77 459.90,210.77" fill="#000"/>
<polygon points="469.30,205.40 472.20,210.77 466.40,210.77" fill="#000"/>
<polygon points="466.00,208.30 468.90,213.66 463.10,213.66" fill="#000"/>
<line x1="494.50" y1="196.50" x2="494.50" y2="210.50" stroke="#2a2a2a" stroke-width="0.74" stroke-linecap="butt"/>
<line x1="485.20" y1="201.50" x2="503.80" y2="201.50" stroke="#333" stroke-width="0.64" stroke-linecap="butt"/>
<line x1="490.10" y1="196.50" x2="498.90" y2="196.50" stroke="#333" stroke-width="0.66" stroke-linecap="butt"/>
<line x1="490.10" y1="210.50" x2="498.90" y2="210.50" stroke="#333" stroke-width="0.66" stroke-linecap="butt"/>
<polygon points="488.40,192.65 491.75,196.00 488.40,199.35 485.05,196.00" fill="#000"/>
<polygon points="494.50,193.25 497.85,196.60 494.50,199.95 491.15,196.60" fill="#000"/>
<polygon points="500.80,192.65 504.15,196.00 500.80,199.35 497.45,196.00" fill="#000"/>
<polygon points="501.30,197.75 504.65,201.10 501.30,204.45 497.95,201.10" fill="#000"/>
<polygon points="488.20,199.35 491.55,202.70 488.20,206.05 484.85,202.70" fill="#000"/>
<polygon points="498.20,199.95 501.55,203.30 498.20,206.65 494.85,203.30" fill="#000"/>
<polygon points="491.30,202.65 494.65,206.00 491.30,209.35 487.95,206.00" fill="#000"/>
<polygon points="494.50,205.25 497.85,208.60 494.50,211.95 491.15,208.60" fill="#000"/>
<polygon points="494.50,215.95 497.85,219.30 494.50,222.65 491.15,219.30" fill="#000"/>
<path d="M436.30,176.40 V174.00 Q436.30,173.10 437.20,173.10 H493.90 Q494.80,173.10 494.80,174.00 V176.40" fill="none" stroke="#000" stroke-width="1.3"/>
<text x="466.35" y="173.40" font-size="8.2" font-weight="normal" text-anchor="middle" fill="#000" stroke="#000" stroke-width="0.35" letter-spacing="0.3">**</text>
<path d="M436.50,188.75 V186.35 Q436.50,185.45 437.40,185.45 H463.00 Q463.90,185.45 463.90,186.35 V188.75" fill="none" stroke="#000" stroke-width="1.3"/>
<text x="451.00" y="185.55" font-size="8.2" font-weight="normal" text-anchor="middle" fill="#000" stroke="#000" stroke-width="0.35" letter-spacing="0.3">**</text>
<path d="M466.70,188.75 V186.35 Q466.70,185.45 467.60,185.45 H493.90 Q494.80,185.45 494.80,186.35 V188.75" fill="none" stroke="#000" stroke-width="1.3"/>
<text x="481.05" y="185.55" font-size="8.2" font-weight="normal" text-anchor="middle" fill="#000" stroke="#000" stroke-width="0.35" letter-spacing="0.3">*</text>
</svg>
</body></html>
